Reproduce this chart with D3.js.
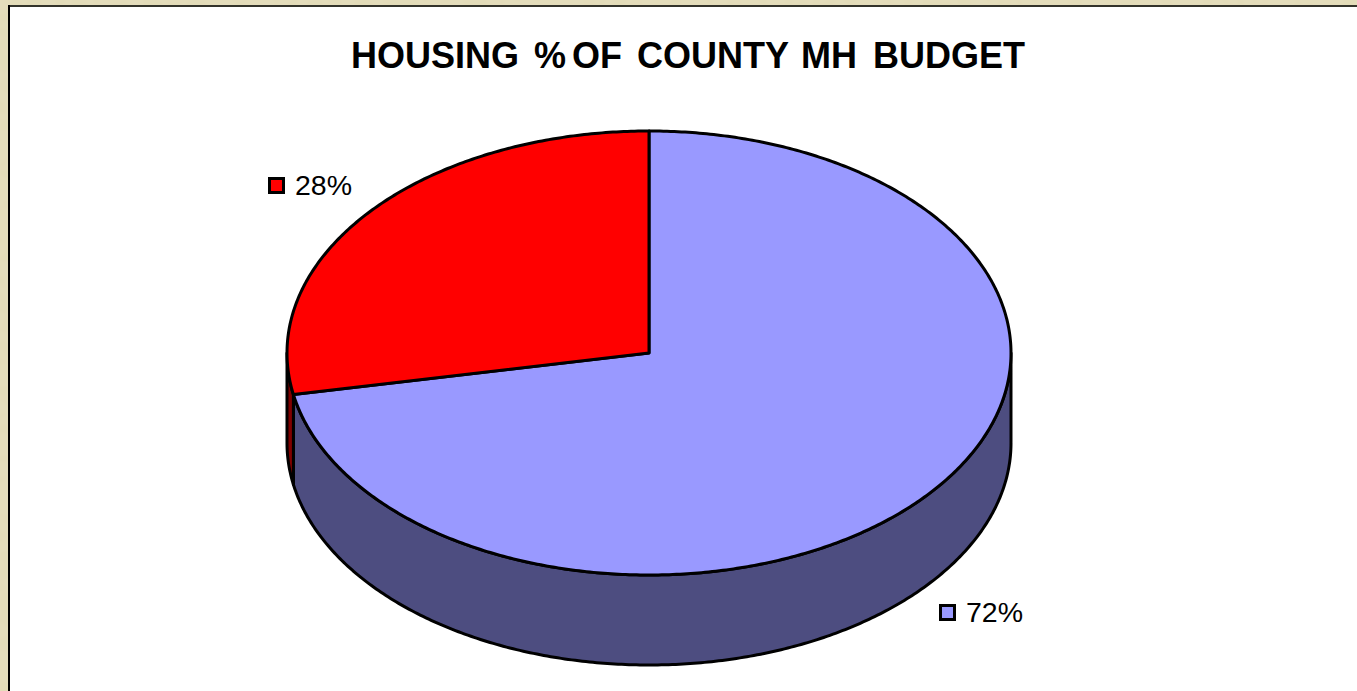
<!DOCTYPE html>
<html lang="en">
<head>
<meta charset="utf-8">
<title>Housing % of County MH Budget</title>
<script src="https://d3js.org/d3.v7.min.js"></script>
<style>
	html, body { margin: 0; padding: 0; background: #e3dcb8; overflow: hidden; }
	svg { display: block; }
	text { font-family: "Liberation Sans", Arial, sans-serif; fill: #000; }
</style>
</head>
<body>
<script type="text/javascript">

	//chart data
	var titleWords = ["HOUSING", "%", "OF", "COUNTY", "MH", "BUDGET"];
	var labels = ["72%", "28%"];
	var values = [72, 28];
	var faceColors = ["#9999ff", "#ff0000"];
	var wallColors = ["#4d4d80", "#800000"];

	//canvas
	var width = 1357,
		height = 691,
		pi = Math.PI;

	//pie geometry, unit circle mapped to the squashed ellipse
	var x = d3.scaleLinear().domain([-1, 1]).range([287, 1011]),
		y = d3.scaleLinear().domain([-1, 1]).range([131, 575]),
		depth = 90;

	var svg = d3.select("body").append("svg")
		.attr("width", width)
		.attr("height", height);

	//parchment texture behind the chart panel
	var paper = svg.append("defs").append("filter").attr("id", "paper")
		.attr("x", 0).attr("y", 0).attr("width", "100%").attr("height", "100%");
	paper.append("feTurbulence")
		.attr("type", "fractalNoise")
		.attr("baseFrequency", 0.07)
		.attr("numOctaves", 2)
		.attr("seed", 4);
	paper.append("feColorMatrix")
		.attr("type", "matrix")
		.attr("values", "0 0 0 0 0.78  0 0 0 0 0.73  0 0 0 0 0.52  1.2 0 0 0 -0.3");
	paper.append("feComposite").attr("in2", "SourceGraphic").attr("operator", "over");

	svg.append("rect")
		.attr("width", width)
		.attr("height", height)
		.attr("fill", "#e3dcb8")
		.attr("filter", "url(#paper)");

	//white panel, bleeds off the right and bottom
	svg.append("rect")
		.attr("x", 9)
		.attr("y", 5)
		.attr("width", width)
		.attr("height", height)
		.attr("fill", "#fff");
	svg.append("line")
		.attr("x1", 8).attr("x2", width).attr("y1", 6).attr("y2", 6)
		.attr("stroke", "#33332a").attr("stroke-width", 2);
	svg.append("line")
		.attr("x1", 9).attr("x2", 9).attr("y1", 5).attr("y2", height)
		.attr("stroke", "#000").attr("stroke-width", 2);

	//title words sit at their own spots, the spacing is uneven in the original
	var wordX = [351, 534, 572, 637, 801, 873];
	svg.append("text")
		.attr("y", 68)
		.style("font-size", "36px")
		.style("font-weight", "bold")
		.selectAll("tspan")
		.data(titleWords)
		.enter().append("tspan")
		.attr("x", function(d, i){ return wordX[i]; })
		.text(function(d){ return d; });

	//slices run clockwise from 12 o'clock
	var slices = d3.pie().sort(null)(values);

	var rimLine = d3.line()
		.x(function(d){ return x(Math.sin(d)); })
		.y(function(d){ return y(-Math.cos(d)); });

	var lowerRimLine = d3.line()
		.x(function(d){ return x(Math.sin(d)); })
		.y(function(d){ return y(-Math.cos(d)) + depth; });

	function angles(a0, a1){
		var n = Math.max(2, Math.ceil((a1 - a0) / 0.01));
		return d3.range(n + 1).map(function(i){ return a0 + (a1 - a0) * i / n; });
	}

	//side wall, only the part of each slice on the near half
	var walls = svg.append("g");
	slices.forEach(function(s, i){
		var a0 = Math.max(s.startAngle, pi / 2),
			a1 = Math.min(s.endAngle, 3 * pi / 2);
		if (a1 <= a0) return;
		var rim = angles(a0, a1);
		walls.append("path")
			.attr("d", rimLine(rim) + "L" + lowerRimLine(rim.slice().reverse()).slice(1) + "Z")
			.attr("fill", wallColors[i])
			.attr("stroke", "#000")
			.attr("stroke-width", 3)
			.attr("stroke-linejoin", "round");
	});

	//top face
	var faces = svg.append("g");
	slices.forEach(function(s, i){
		var rim = angles(s.startAngle, s.endAngle);
		faces.append("path")
			.attr("d", "M" + x(0) + "," + y(0) + "L" + rimLine(rim).slice(1) + "Z")
			.attr("fill", faceColors[i])
			.attr("stroke", "#000")
			.attr("stroke-width", 3)
			.attr("stroke-linejoin", "round");
	});

	//data labels with their legend keys
	var labelX = [939, 268],
		labelY = [604, 177];
	labels.forEach(function(t, i){
		svg.append("rect")
			.attr("x", labelX[i] + 1.5)
			.attr("y", labelY[i] + 1.5)
			.attr("width", 14)
			.attr("height", 14)
			.attr("fill", faceColors[i])
			.attr("stroke", "#000")
			.attr("stroke-width", 3);
		svg.append("text")
			.attr("x", labelX[i] + 27)
			.attr("y", labelY[i] + 18)
			.style("font-size", "28.5px")
			.text(t);
	});

</script>
</body>
</html>
